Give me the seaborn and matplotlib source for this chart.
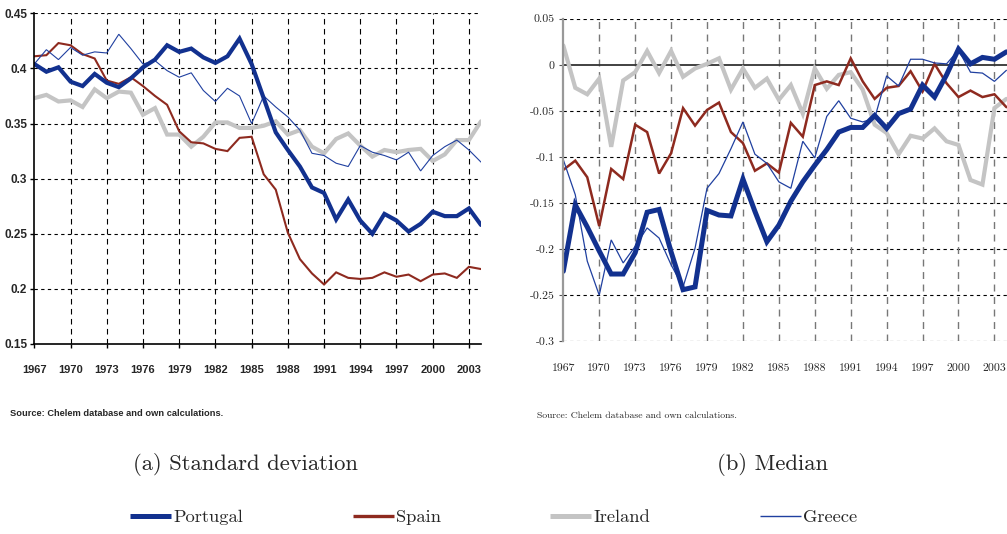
import matplotlib
matplotlib.use("Agg")
import matplotlib.pyplot as plt
import seaborn as sns
import pandas as pd

sns.set_theme(style="white")

years = list(range(1967, 2005))

# (a) Standard deviation
sd_portugal = [0.404, 0.397, 0.401, 0.388, 0.384, 0.395, 0.387, 0.383, 0.391, 0.401,
               0.408, 0.421, 0.415, 0.418, 0.410, 0.405, 0.411, 0.427, 0.404, 0.373,
               0.342, 0.326, 0.311, 0.292, 0.287, 0.263, 0.281, 0.262, 0.250, 0.268,
               0.262, 0.252, 0.259, 0.270, 0.266, 0.266, 0.273, 0.258]
sd_spain = [0.411, 0.412, 0.423, 0.421, 0.413, 0.409, 0.389, 0.386, 0.392, 0.384,
            0.375, 0.367, 0.343, 0.333, 0.332, 0.327, 0.325, 0.337, 0.338, 0.304,
            0.290, 0.251, 0.227, 0.214, 0.204, 0.215, 0.210, 0.209, 0.210, 0.215,
            0.211, 0.213, 0.207, 0.213, 0.214, 0.210, 0.220, 0.218]
sd_ireland = [0.373, 0.376, 0.370, 0.371, 0.365, 0.381, 0.373, 0.379, 0.378, 0.358,
              0.364, 0.340, 0.340, 0.329, 0.338, 0.351, 0.351, 0.346, 0.346, 0.348,
              0.352, 0.340, 0.344, 0.329, 0.323, 0.336, 0.341, 0.330, 0.320, 0.326,
              0.324, 0.326, 0.327, 0.316, 0.322, 0.335, 0.335, 0.352]
sd_greece = [0.404, 0.417, 0.408, 0.419, 0.412, 0.415, 0.414, 0.431, 0.418, 0.404,
             0.407, 0.398, 0.392, 0.396, 0.380, 0.370, 0.382, 0.375, 0.350, 0.375,
             0.365, 0.356, 0.344, 0.323, 0.321, 0.314, 0.311, 0.330, 0.324, 0.321,
             0.317, 0.324, 0.307, 0.321, 0.329, 0.335, 0.326, 0.315]

# (b) Median
md_portugal = [-0.224, -0.152, -0.176, -0.202, -0.227, -0.227, -0.204, -0.160, -0.157, -0.203,
               -0.244, -0.241, -0.158, -0.163, -0.164, -0.124, -0.159, -0.192, -0.174, -0.148,
               -0.127, -0.109, -0.092, -0.073, -0.068, -0.068, -0.055, -0.069, -0.053, -0.048,
               -0.022, -0.035, -0.011, 0.017, 0.001, 0.008, 0.006, 0.014]
md_spain = [-0.114, -0.104, -0.122, -0.175, -0.113, -0.124, -0.065, -0.073, -0.118, -0.096,
            -0.047, -0.066, -0.049, -0.041, -0.073, -0.085, -0.115, -0.107, -0.117, -0.063,
            -0.078, -0.022, -0.018, -0.022, 0.007, -0.018, -0.037, -0.025, -0.023, -0.007,
            -0.029, 0.001, -0.020, -0.035, -0.028, -0.035, -0.032, -0.046]
md_ireland = [0.021, -0.025, -0.032, -0.015, -0.089, -0.017, -0.008, 0.015, -0.009, 0.015,
              -0.013, -0.004, 0.001, 0.007, -0.027, -0.004, -0.025, -0.015, -0.038, -0.022,
              -0.053, -0.004, -0.026, -0.011, -0.008, -0.027, -0.065, -0.074, -0.097, -0.077,
              -0.080, -0.069, -0.083, -0.087, -0.125, -0.130, -0.047, -0.037]
md_greece = [-0.103, -0.141, -0.213, -0.250, -0.190, -0.215, -0.197, -0.177, -0.188, -0.217,
             -0.241, -0.199, -0.134, -0.118, -0.091, -0.062, -0.097, -0.107, -0.127, -0.134,
             -0.083, -0.101, -0.056, -0.039, -0.058, -0.062, -0.058, -0.012, -0.023, 0.006,
             0.006, 0.002, 0.001, 0.016, -0.008, -0.009, -0.018, -0.006]

countries = ["Portugal", "Spain", "Ireland", "Greece"]
colors = {"Portugal": "#12318f", "Spain": "#8e2a1f", "Ireland": "#c4c4c4", "Greece": "#2040a0"}
widths_a = {"Portugal": 3.0, "Spain": 1.5, "Ireland": 3.0, "Greece": 0.8}
widths_b = {"Portugal": 3.6, "Spain": 1.8, "Ireland": 3.0, "Greece": 0.9}
draw_order = ["Ireland", "Spain", "Greece", "Portugal"]

sd = pd.DataFrame({"year": years, "Portugal": sd_portugal, "Spain": sd_spain,
                   "Ireland": sd_ireland, "Greece": sd_greece})
md = pd.DataFrame({"year": years, "Portugal": md_portugal, "Spain": md_spain,
                   "Ireland": md_ireland, "Greece": md_greece})

xticks = list(range(1967, 2004, 3))
sd_yticks = [0.15, 0.2, 0.25, 0.3, 0.35, 0.4, 0.45]
sd_ylabels = ["0.15", "0.2", "0.25", "0.3", "0.35", "0.4", "0.45"]
md_yticks = [-0.3, -0.25, -0.2, -0.15, -0.1, -0.05, 0, 0.05]
md_ylabels = ["-0.3", "-0.25", "-0.2", "-0.15", "-0.1", "-0.05", "0", "0.05"]

W, H = 1007, 534
fig = plt.figure(figsize=(W / 100, H / 100), dpi=100)

# bold sans for panel (a), Computer Modern for panel (b)
bold_kw = dict(family=["Liberation Sans", "DejaVu Sans"], fontweight="bold")
serif_cm = ["cmr10", "DejaVu Serif"]

# ---- panel (a) ----
ax1 = fig.add_axes([34.3 / W, 1 - 344 / H, (481 - 34.3) / W, (344 - 13.3) / H])
for c in draw_order:
    sns.lineplot(data=sd, x="year", y=c, ax=ax1, color=colors[c], lw=widths_a[c],
                 solid_joinstyle="miter")
ax1.set_xlim(1967, 2004)
ax1.set_ylim(0.15, 0.45)
ax1.set_xlabel("")
ax1.set_ylabel("")
ax1.set_xticks(xticks)
ax1.set_xticklabels([str(y) for y in xticks], fontsize=8, **bold_kw)
ax1.set_yticks(sd_yticks)
ax1.set_yticklabels(sd_ylabels, fontsize=8.5, **bold_kw)
for y in sd_yticks[1:]:
    ax1.axhline(y, color="black", lw=0.8, ls=(0, (3, 3)), zorder=0)
for x in xticks[1:]:
    ax1.axvline(x, color="black", lw=0.8, ls=(0, (5, 4)), zorder=0)
for s in ["top", "right"]:
    ax1.spines[s].set_visible(False)
for s in ["left", "bottom"]:
    ax1.spines[s].set_color("black")
    ax1.spines[s].set_linewidth(1.2)
ax1.tick_params(axis="both", which="both", direction="out", length=3, width=1, color="black",
                left=True, bottom=True)
ax1.tick_params(axis="x", pad=12)
ax1.tick_params(axis="y", pad=2)
ax1.set_facecolor("white")

# ---- panel (b) ----
ax2 = fig.add_axes([563.3 / W, 1 - 341.3 / H, (1007 - 563.3) / W, (341.3 - 18.7) / H])
for c in draw_order:
    sns.lineplot(data=md, x="year", y=c, ax=ax2, color=colors[c], lw=widths_b[c],
                 solid_joinstyle="miter")
ax2.set_xlim(1967, 2004.05)
ax2.set_ylim(-0.3, 0.05)
ax2.set_xlabel("")
ax2.set_ylabel("")
ax2.set_xticks(xticks)
ax2.set_xticklabels([str(y) for y in xticks], family=serif_cm, fontsize=8.5)
ax2.set_yticks(md_yticks)
ax2.set_yticklabels(md_ylabels, family=serif_cm, fontsize=8.5)
for y in md_yticks:
    if y == 0:
        ax2.axhline(y, color="#333333", lw=1.3, zorder=0.5)
    else:
        ax2.axhline(y, color="black", lw=0.8, ls=(0, (3, 3)), zorder=0)
for x in xticks[1:]:
    ax2.axvline(x, color="#777777", lw=1.0, ls=(0, (5, 4)), zorder=0)
for s in ["top", "right", "bottom"]:
    ax2.spines[s].set_visible(False)
ax2.spines["left"].set_color("#999999")
ax2.spines["left"].set_linewidth(1.6)
ax2.tick_params(axis="y", direction="out", length=3, width=0.8, color="#555555", left=True, pad=3)
ax2.tick_params(axis="x", length=0, bottom=False, pad=16)
ax2.set_facecolor("white")

# ---- sources and captions ----
fig.text(10 / W, 1 - 413 / H, "Source: Chelem database and own calculations.",
         fontsize=6.7, va="center", ha="left", **bold_kw)
fig.text(537 / W, 1 - 416 / H, "Source: Chelem database and own calculations.",
         family=serif_cm, fontsize=7, va="center", ha="left")
fig.text(245.5 / W, 1 - 464 / H, "(a) Standard deviation", family=serif_cm, fontsize=16.3,
         va="center", ha="center")
fig.text(772.5 / W, 1 - 464 / H, "(b) Median", family=serif_cm, fontsize=16.3,
         va="center", ha="center")

# ---- legend ----
legend_items = [("Portugal", 130, 3.6), ("Spain", 353, 2.4), ("Ireland", 550, 3.6), ("Greece", 760, 1.0)]
for name, x0, lw in legend_items:
    fig.add_artist(plt.Line2D([x0 / W, (x0 + 41) / W], [1 - 516 / H, 1 - 516 / H],
                              color=colors[name], lw=lw, transform=fig.transFigure,
                              solid_capstyle="butt"))
    fig.text((x0 + 43) / W, 1 - 517 / H, name, family=serif_cm, fontsize=13.3,
             va="center", ha="left")

fig.savefig("out.png", dpi=100, facecolor="white")
